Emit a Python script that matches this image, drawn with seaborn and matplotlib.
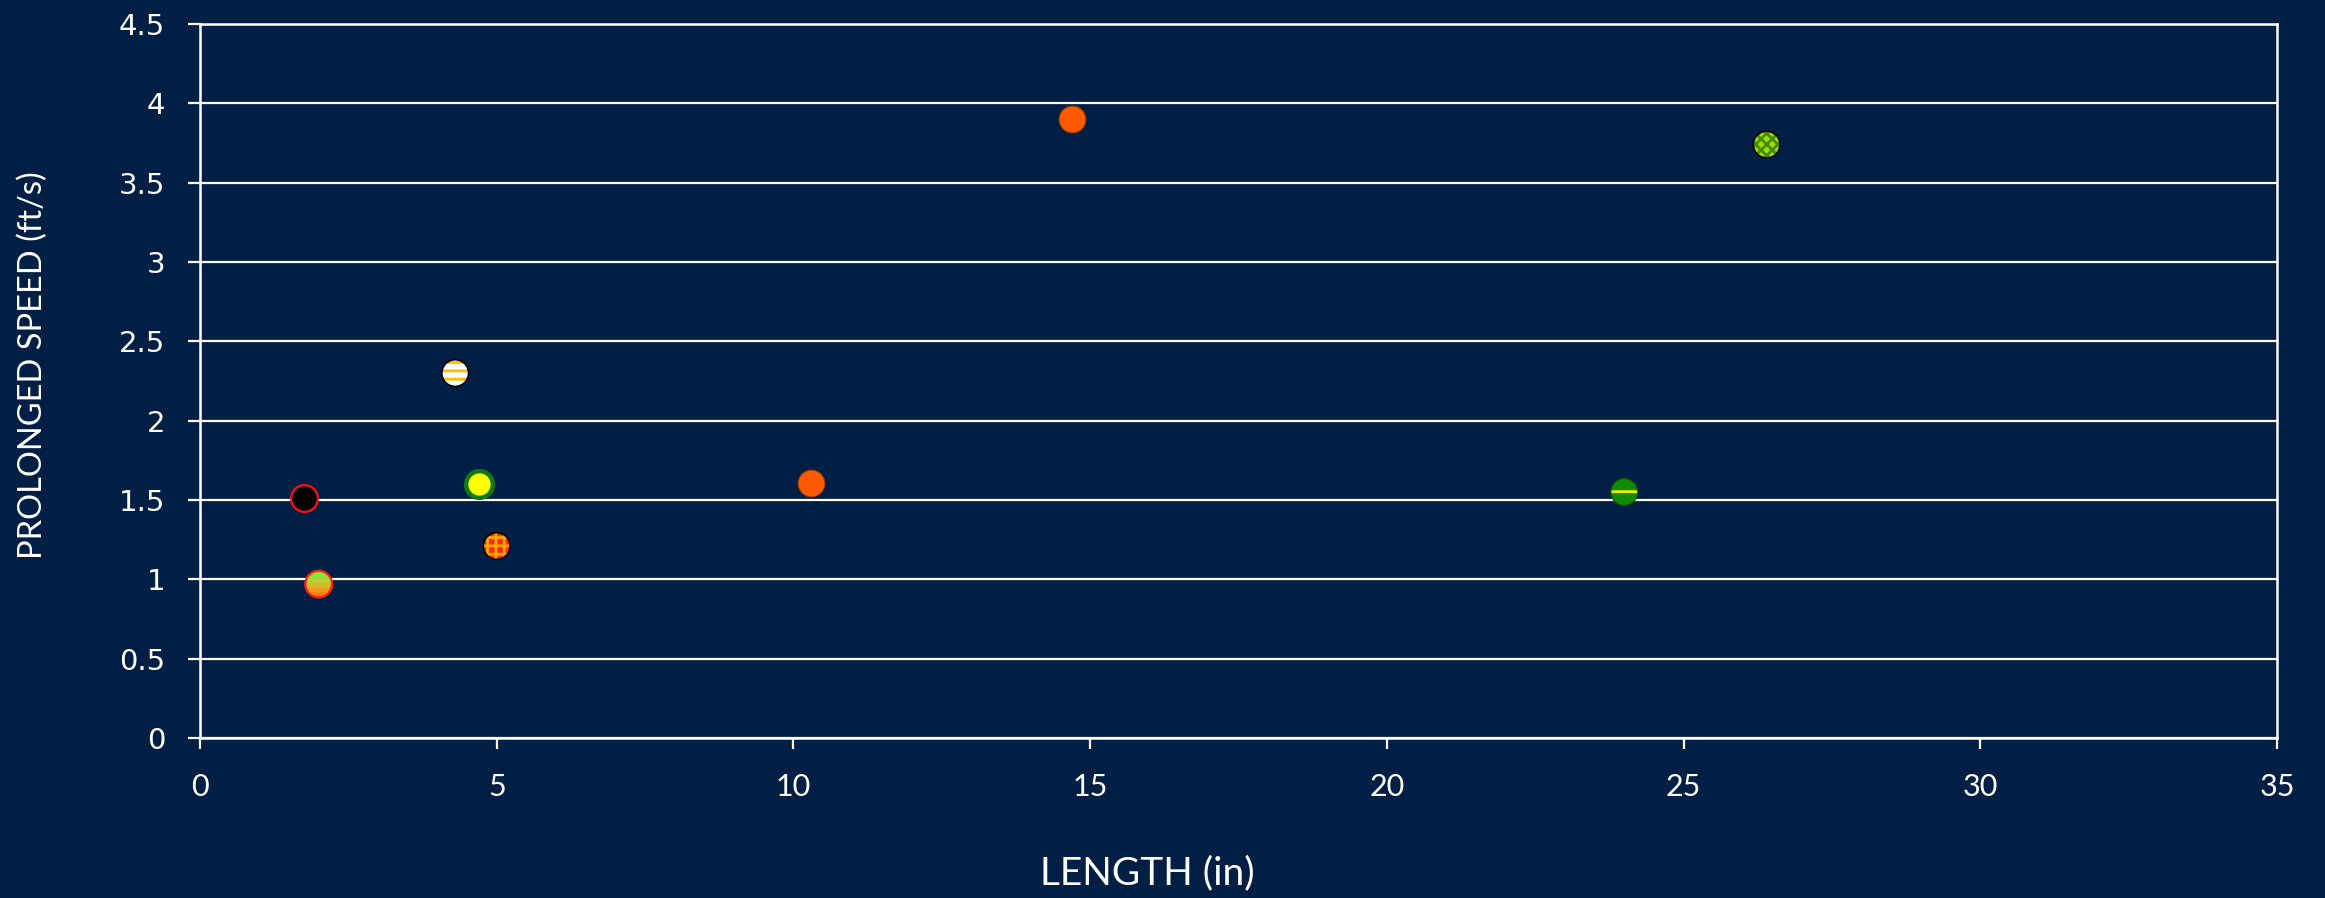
import numpy as np
import matplotlib
matplotlib.use("Agg")
import matplotlib.pyplot as plt
from matplotlib.path import Path
from matplotlib.markers import MarkerStyle
import seaborn as sns
import pandas as pd

# Measured specimens: body length and prolonged swimming speed
length_in = [1.75, 2.0, 4.3, 4.7, 5.0, 10.3, 14.7, 24.0, 26.4]
speed_fts = [1.51, 0.97, 2.30, 1.60, 1.21, 1.61, 3.90, 1.55, 3.74]

x_ticks = [0, 5, 10, 15, 20, 25, 30, 35]
y_ticks = [0, 0.5, 1, 1.5, 2, 2.5, 3, 3.5, 4, 4.5]
y_tick_labels = ["0", "0.5", "1", "1.5", "2", "2.5", "3", "3.5", "4", "4.5"]

BG = "#011F45"

# Per-point marker look: face, edge, edge width, hatch, hatch colour
looks = [
    dict(face="#000000", edge="#FF1010", lw=1.6, hatch=None, hcol=None),
    dict(face="gradient", edge="#FF1A1A", lw=1.6, hatch=None, hcol=None),
    dict(face="#FFFFFF", edge="#000000", lw=1.2, hatch="--", hcol="#FFBF00"),
    dict(face="#FFFF00", edge="#0E7A0E", lw=3.2, hatch=None, hcol=None),
    dict(face="#FF2A00", edge="#000000", lw=1.2, hatch="++", hcol="#FFA500"),
    dict(face="#FF5A00", edge="#9A3A00", lw=0.8, hatch=None, hcol=None),
    dict(face="#FF5A00", edge="#9A3A00", lw=0.8, hatch=None, hcol=None),
    dict(face="#138A00", edge="#0B5A00", lw=0.8, hatch="-", hcol="#E8F000"),
    dict(face="#A8D800", edge="#000000", lw=1.2, hatch="xxx", hcol="#3E8E00"),
]

df = pd.DataFrame({"length": length_in, "speed": speed_fts})

sns.set_theme(style="dark")
plt.rcParams["hatch.linewidth"] = 2.0

fig = plt.figure(figsize=(23.25, 8.98), dpi=100, facecolor=BG)
ax = fig.add_axes([200 / 2325, 1 - 738 / 898, (2277 - 200) / 2325, (738 - 24) / 898])
ax.set_facecolor(BG)

S = 370


def cap_marker(c):
    """Part of a unit circle above height c (used to build a vertical gradient)."""
    a0 = np.arcsin(c)
    t = np.linspace(a0, np.pi - a0, 60)
    verts = np.column_stack([np.cos(t), np.sin(t)])
    verts = np.vstack([verts, verts[:1]])
    return MarkerStyle(Path(verts, closed=True))


for i, lk in enumerate(looks):
    row = df.iloc[[i]]
    if lk["face"] == "gradient":
        bands = [(-1.0, "#FF7A10"), (-0.6, "#F29A1C"), (-0.25, "#D9B828"),
                 (0.1, "#B5D232"), (0.45, "#8CE23A")]
        for c, col in bands:
            mk = "o" if c <= -1 else cap_marker(c)
            sns.scatterplot(data=row, x="length", y="speed", ax=ax, s=S,
                            marker=mk, color=col, linewidth=0, zorder=3,
                            legend=False)
        sns.scatterplot(data=row, x="length", y="speed", ax=ax, s=S,
                        marker="o", facecolor="none", edgecolor=lk["edge"],
                        linewidth=lk["lw"], zorder=4, legend=False)
        continue
    if lk["hatch"]:
        sns.scatterplot(data=row, x="length", y="speed", ax=ax, s=S,
                        marker="o", facecolor=lk["face"], edgecolor=lk["hcol"],
                        hatch=lk["hatch"], linewidth=0, zorder=3, legend=False)
        sns.scatterplot(data=row, x="length", y="speed", ax=ax, s=S,
                        marker="o", facecolor="none", edgecolor=lk["edge"],
                        linewidth=lk["lw"], zorder=4, legend=False)
    else:
        sns.scatterplot(data=row, x="length", y="speed", ax=ax, s=S,
                        marker="o", facecolor=lk["face"], edgecolor=lk["edge"],
                        linewidth=lk["lw"], zorder=3, legend=False)

ax.set_xlim(0, 35)
ax.set_ylim(0, 4.5)
ax.set_xticks(x_ticks)
ax.set_yticks(y_ticks)
ax.set_yticklabels(y_tick_labels)

ax.grid(False)
ax.yaxis.grid(True, color="white", linewidth=1.6)
ax.set_axisbelow(True)

for side in ["left", "bottom", "right", "top"]:
    ax.spines[side].set_visible(True)
    ax.spines[side].set_color("white")
    ax.spines[side].set_linewidth(1.8)

ax.tick_params(axis="x", which="major", direction="out", length=8, width=1.6,
               color="white", labelcolor="white", pad=17, labelsize=22,
               bottom=True)
ax.tick_params(axis="y", which="major", direction="out", length=9, width=1.6,
               color="white", labelcolor="white", pad=16, labelsize=21,
               left=True)
for lab in ax.get_xticklabels():
    lab.set_fontfamily(["Lato", "DejaVu Sans"])
for lab in ax.get_yticklabels():
    lab.set_fontfamily(["DejaVu Sans"])

ax.set_xlabel("LENGTH (in)", color="white", fontsize=28,
              family=["Lato", "DejaVu Sans"])
ax.set_ylabel("PROLONGED SPEED (ft/s)", color="white", fontsize=23.5,
              family=["Lato", "DejaVu Sans"])
ax.xaxis.set_label_coords(0.456, -0.189)
ax.xaxis.label.set_va("center")
ax.yaxis.set_label_coords(-0.0805, 0.522)
ax.yaxis.label.set_va("center")

fig.savefig("out.png", dpi=100, facecolor=BG)
